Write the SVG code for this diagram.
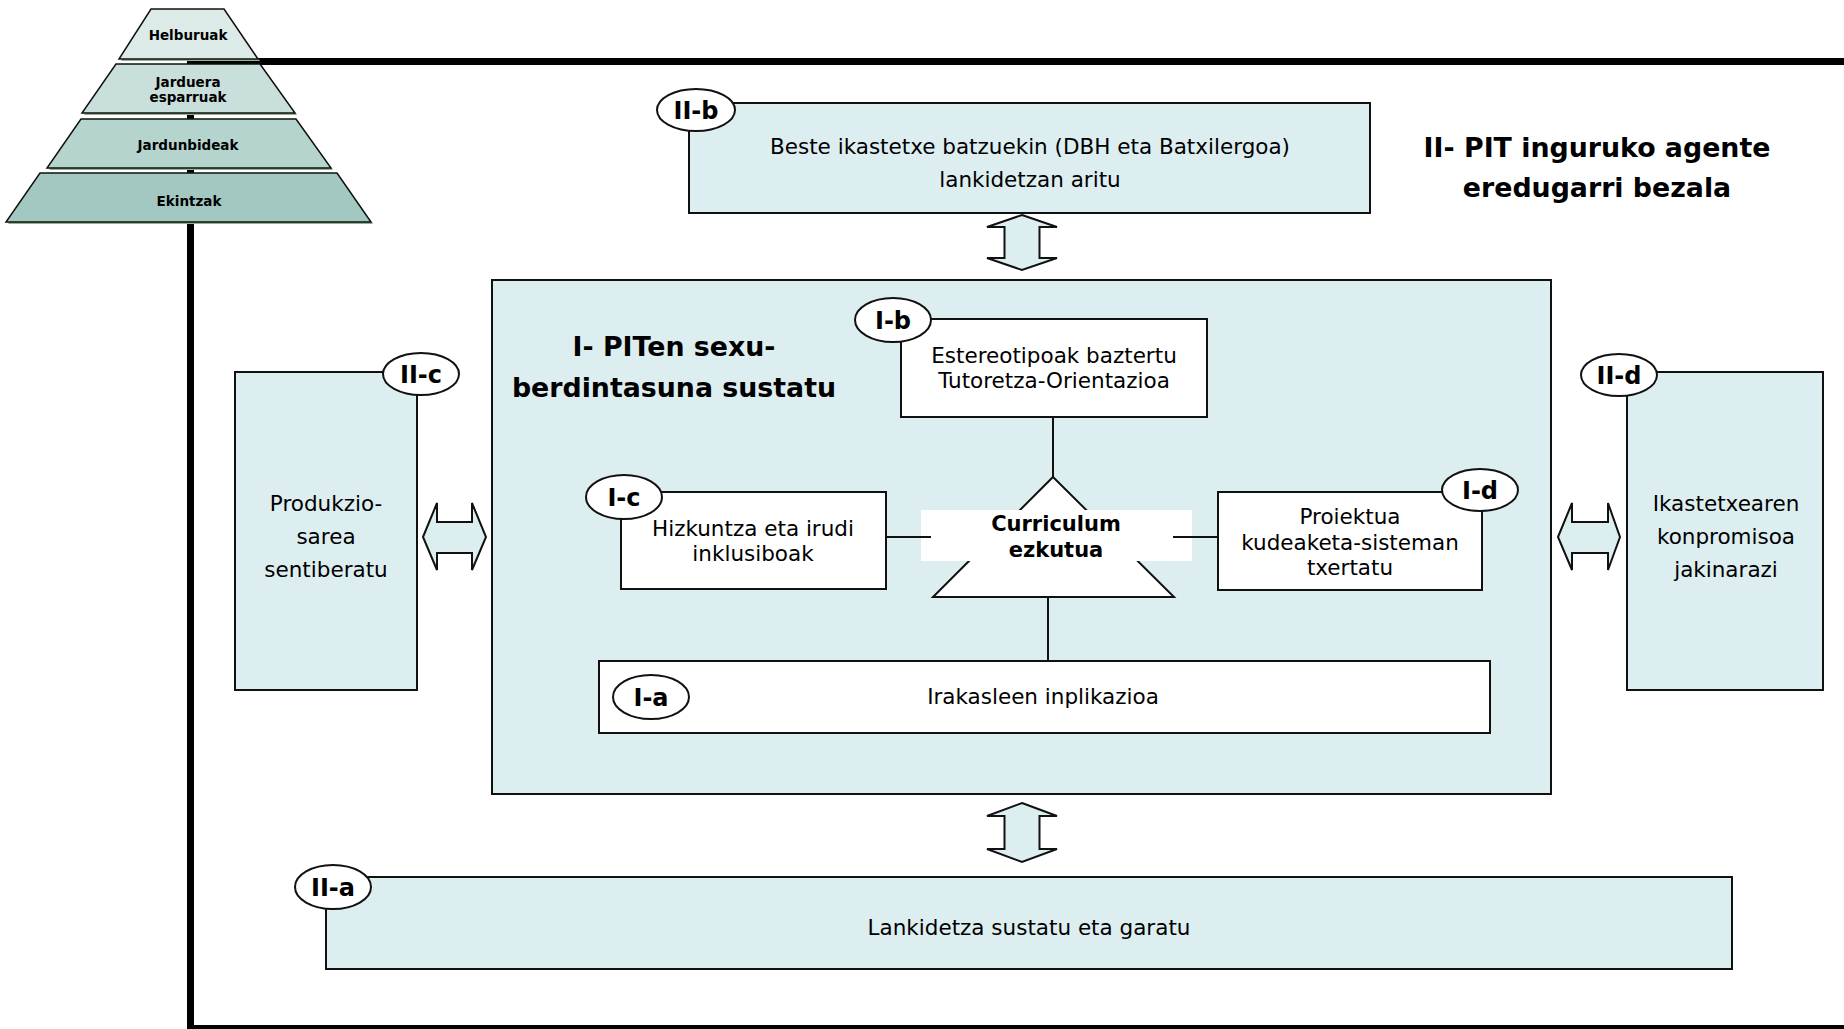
<svg xmlns="http://www.w3.org/2000/svg" width="1844" height="1029" viewBox="0 0 1844 1029">
<style>
text{font-family:"DejaVu Sans","Liberation Sans",sans-serif;fill:#000}
.t{font-size:21.5px;text-anchor:middle}
.lb{font-size:24px;font-weight:bold;text-anchor:middle}
.py{font-size:13.5px;font-weight:bold;text-anchor:middle}
.ti{font-size:26.8px;font-weight:bold;text-anchor:middle}
.blue{fill:#ddeef0;stroke:#111;stroke-width:2}
.white{fill:#fff;stroke:#111;stroke-width:2}
.ell{fill:#fff;stroke:#111;stroke-width:2}
.arr{fill:#ddeef0;stroke:#111;stroke-width:2;stroke-linejoin:miter}
.ln{stroke:#111;stroke-width:2;fill:none}
.frame{stroke:#000;stroke-width:7;fill:none}
.pyr{stroke:#111;stroke-width:1.5}
.sh{fill:#8fb58c}
</style>

<g id="frame">
<line class="frame" x1="187" y1="61.5" x2="1844" y2="61.5"/>
<line class="frame" x1="190.5" y1="58" x2="190.5" y2="1032"/>
<line class="frame" x1="187" y1="1028.5" x2="1844" y2="1028.5"/>
</g>

<g id="pyramid">
<g id="p-helburuak">
<polygon class="sh" points="153,11 226,11 260,61 121,61"/>
<polygon class="pyr" fill="#dcebe8" points="151,9 224,9 258,59 119,59"/>
<text class="py" x="188" y="40">Helburuak</text>
</g>
<g id="p-jarduera">
<polygon class="sh" points="118,66 262,66 297,115 84,115"/>
<polygon class="pyr" fill="#c9dfdb" points="116,64 260,64 295,113 82,113"/>
<text class="py" x="188" y="87">Jarduera</text>
<text class="py" x="188" y="102">esparruak</text>
</g>
<g id="p-jardunbideak">
<polygon class="sh" points="83,121 298,121 333,170 49,170"/>
<polygon class="pyr" fill="#b5d4cd" points="81,119 296,119 331,168 47,168"/>
<text class="py" x="188" y="150">Jardunbideak</text>
</g>
<g id="p-ekintzak">
<polygon class="sh" points="42,175 339,175 373,224 8,224"/>
<polygon class="pyr" fill="#a3c8c2" points="40,173 337,173 371,222 6,222"/>
<text class="py" x="189" y="206">Ekintzak</text>
</g>
</g>

<g id="title-II">
<text class="ti" x="1597" y="157">II- PIT inguruko agente</text>
<text class="ti" x="1597" y="197">eredugarri bezala</text>
</g>

<g id="connectors">
<polygon class="arr" points="1022,215 1057,227 1039.5,227 1039.5,258 1057,258 1022,270 987,258 1004.5,258 1004.5,227 987,227"/>
<polygon class="arr" points="1022,803 1057,816 1039.5,816 1039.5,849 1057,849 1022,862 987,849 1004.5,849 1004.5,816 987,816"/>
<polygon class="arr" points="423,537 437,503 437,522 472,522 472,503 486,537 472,570 472,553 437,553 437,570"/>
<polygon class="arr" points="1558,537 1572,503 1572,522 1608,522 1608,503 1620,537 1608,570 1608,553 1572,553 1572,570"/>
</g>

<g id="II-b">
<rect class="blue" x="689" y="103" width="681" height="110"/>
<ellipse class="ell" cx="696" cy="110" rx="39" ry="21"/>
<text class="lb" x="696" y="119">II-b</text>
<text class="t" x="1030" y="154">Beste ikastetxe batzuekin (DBH eta Batxilergoa)</text>
<text class="t" x="1030" y="187">lankidetzan aritu</text>
</g>

<g id="I-box">
<rect class="blue" x="492" y="280" width="1059" height="514"/>
<text class="ti" x="674" y="356">I- PITen sexu-</text>
<text class="ti" x="674" y="397">berdintasuna sustatu</text>
</g>

<g id="inner-connectors">
<line class="ln" x1="1053" y1="417" x2="1053" y2="477"/>
<line class="ln" x1="1048" y1="597" x2="1048" y2="661"/>
</g>

<g id="curriculum">
<polygon class="white" points="1053,477 1174,597 933,597"/>
<rect x="921" y="510" width="271" height="51" fill="#fff"/>
<line class="ln" x1="886" y1="537" x2="931" y2="537"/>
<line class="ln" x1="1173" y1="537" x2="1218" y2="537"/>
<text class="t" style="font-weight:bold;font-size:21px" x="1056" y="531">Curriculum</text>
<text class="t" style="font-weight:bold;font-size:21px" x="1056" y="557">ezkutua</text>
</g>

<g id="I-b">
<rect class="white" x="901" y="319" width="306" height="98"/>
<ellipse class="ell" cx="893" cy="320" rx="38" ry="22"/>
<text class="lb" x="893" y="329">I-b</text>
<text class="t" x="1054" y="363">Estereotipoak baztertu</text>
<text class="t" x="1054" y="388">Tutoretza-Orientazioa</text>
</g>

<g id="I-c">
<rect class="white" x="621" y="492" width="265" height="97"/>
<ellipse class="ell" cx="624" cy="497" rx="38" ry="22"/>
<text class="lb" x="624" y="506">I-c</text>
<text class="t" x="753" y="536">Hizkuntza eta irudi</text>
<text class="t" x="753" y="561">inklusiboak</text>
</g>

<g id="I-d">
<rect class="white" x="1218" y="492" width="264" height="98"/>
<ellipse class="ell" cx="1480" cy="490" rx="38" ry="21"/>
<text class="lb" x="1480" y="499">I-d</text>
<text class="t" x="1350" y="524">Proiektua</text>
<text class="t" x="1350" y="550">kudeaketa-sisteman</text>
<text class="t" x="1350" y="575">txertatu</text>
</g>

<g id="I-a">
<rect class="white" x="599" y="661" width="891" height="72"/>
<ellipse class="ell" cx="651" cy="697" rx="38" ry="22"/>
<text class="lb" x="651" y="706">I-a</text>
<text class="t" x="1043" y="704">Irakasleen inplikazioa</text>
</g>

<g id="II-c">
<rect class="blue" x="235" y="372" width="182" height="318"/>
<ellipse class="ell" cx="421" cy="374" rx="38" ry="21"/>
<text class="lb" x="421" y="383">II-c</text>
<text class="t" x="326" y="511">Produkzio-</text>
<text class="t" x="326" y="544">sarea</text>
<text class="t" x="326" y="577">sentiberatu</text>
</g>

<g id="II-d">
<rect class="blue" x="1627" y="372" width="196" height="318"/>
<ellipse class="ell" cx="1619" cy="375" rx="38" ry="21"/>
<text class="lb" x="1619" y="384">II-d</text>
<text class="t" x="1726" y="511">Ikastetxearen</text>
<text class="t" x="1726" y="544">konpromisoa</text>
<text class="t" x="1726" y="577">jakinarazi</text>
</g>

<g id="II-a">
<rect class="blue" x="326" y="877" width="1406" height="92"/>
<ellipse class="ell" cx="333" cy="887" rx="38" ry="22"/>
<text class="lb" x="333" y="896">II-a</text>
<text class="t" x="1029" y="935">Lankidetza sustatu eta garatu</text>
</g>
</svg>
